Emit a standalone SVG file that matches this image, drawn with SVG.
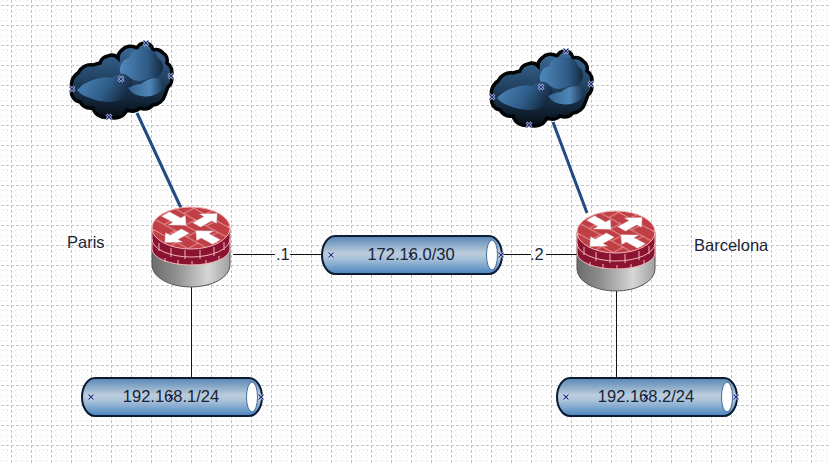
<svg xmlns="http://www.w3.org/2000/svg" xmlns:xlink="http://www.w3.org/1999/xlink" width="829" height="464" viewBox="0 0 829 464">
<style>
text{font-family:"Liberation Sans",Arial,sans-serif;font-size:16.5px;fill:#1b2536}
.lbl{fill:#16233a}
.wire{stroke:#111;stroke-width:1;fill:none}
.uplink{stroke:#234a85;stroke-width:3;fill:none}
.x{stroke:#1c2f8c;stroke-width:1.100;fill:none}
.xw{stroke:#fff;stroke-width:2.500;fill:none;opacity:.8}
.brick{stroke:#f2b6b6;stroke-width:1;fill:none}
</style>
<defs>
<pattern id="grid" x="11" y="5" width="20" height="20" patternUnits="userSpaceOnUse">
<path d="M5.500 0V20M10.500 0V20M15.500 0V20M0 5.500H20M0 10.500H20M0 15.500H20" stroke="#e6e6e6" stroke-width="1" stroke-dasharray="1 3" fill="none"/>
<path d="M.5 0V20M0 .5H20" stroke="#c2c2c2" stroke-width="1" stroke-dasharray="3 2" fill="none"/>
</pattern>
<linearGradient id="pipeG" x1="0" y1="0" x2="0" y2="1">
<stop offset="0" stop-color="#5585b5"/><stop offset=".45" stop-color="#bccddc"/><stop offset=".6" stop-color="#a9c2da"/><stop offset="1" stop-color="#4a84bd"/>
</linearGradient>
<linearGradient id="grayG" x1="0" y1="0" x2="1" y2="0">
<stop offset="0" stop-color="#6c6c6c"/><stop offset=".3" stop-color="#8e8e8e"/><stop offset=".72" stop-color="#d6d6d6"/><stop offset="1" stop-color="#a0a0a0"/>
</linearGradient>
<linearGradient id="cloudG" x1="0" y1="0" x2="0" y2="1">
<stop offset="0" stop-color="#3d6d9c"/><stop offset=".5" stop-color="#20405f"/><stop offset="1" stop-color="#070d16"/>
</linearGradient>
<linearGradient id="puffA" x1="0" y1="0" x2="1" y2="0">
<stop offset="0" stop-color="#4f88bc"/><stop offset=".65" stop-color="#2f5a85"/><stop offset="1" stop-color="#15283e"/>
</linearGradient>
<linearGradient id="puffB" x1="0" y1="0" x2="1" y2="0.3">
<stop offset="0" stop-color="#4f8abf"/><stop offset=".65" stop-color="#2d5a85"/><stop offset="1" stop-color="#172c45"/>
</linearGradient>
<linearGradient id="puffC" x1="0" y1="0" x2="1" y2="0">
<stop offset="0" stop-color="#35648f"/><stop offset=".6" stop-color="#4f86b8"/><stop offset="1" stop-color="#1b3450"/>
</linearGradient>
<filter id="soft" x="-10%" y="-10%" width="120%" height="120%"><feGaussianBlur stdDeviation=".5"/></filter>
<pattern id="bricks" width="32" height="28" patternUnits="userSpaceOnUse" patternTransform="translate(191 228) scale(1 .55) rotate(45)">
<path d="M0 .5H32M0 14.500H32M8.500 0V14M24.500 14V28" stroke="#eda3a3" stroke-width="1.200" fill="none"/>
</pattern>
<g id="xm">
<path class="xw" d="M-2.500-2.500L2.500 2.500M-2.500 2.500L2.500-2.500"/>
<path class="x" d="M-2.500-2.500L2.500 2.500M-2.500 2.500L2.500-2.500"/>
</g>
<g id="pipe">
<rect x="1" y="1" width="180" height="38" rx="13" ry="19" fill="url(#pipeG)" stroke="#0b1b33" stroke-width="2"/>
<ellipse cx="171" cy="20" rx="5.500" ry="15" fill="#fff" stroke="#3f6f9f" stroke-width="1"/>
<use xlink:href="#xm" x="10" y="20"/>
<use xlink:href="#xm" x="90" y="20"/>
<use xlink:href="#xm" x="180" y="20"/>
</g>
<g id="cloud">
<path d="M72 89A14 14 0 0 1 78 73A14 14 0 0 1 93 65L100 63A10 10 0 0 1 108 56A9 9 0 0 1 118 58A10 10 0 0 1 122 50A12 12 0 0 1 137 48A9 9 0 0 1 146 43A9 9 0 0 1 153 50A10 10 0 0 1 163 53A9 9 0 0 1 167 63A10 10 0 0 1 171 76A9 9 0 0 1 168 87L165 95A14 14 0 0 1 153 105A12 12 0 0 1 140 108A12 12 0 0 1 127 110A14 14 0 0 1 109 117A13 13 0 0 1 93 108A13 13 0 0 1 80 102A10 10 0 0 1 72 89Z" fill="url(#cloudG)" stroke="#020406" stroke-width="3.500"/>
<g filter="url(#soft)">
<path d="M120 72A12 12 0 0 1 129 58A12 12 0 0 1 146 50A10 10 0 0 1 158 58A11 11 0 0 1 162 72A10 10 0 0 1 150 78Q138 84 130 78Q122 80 120 72Z" fill="url(#puffA)"/>
<path d="M77 90Q85 82 93 80Q105 76 112 78Q122 70 128 76Q136 82 129 92Q124 100 112 102Q98 102 90 98Q82 96 77 90Z" fill="url(#puffB)"/>
<path d="M128 88Q136 84 141 84Q150 76 162 79Q167 86 160 92Q150 98 142 96Q134 96 128 88Z" fill="url(#puffC)"/>
</g>
<use xlink:href="#xm" x="72" y="89"/>
<use xlink:href="#xm" x="146" y="43"/>
<use xlink:href="#xm" x="171" y="76"/>
<use xlink:href="#xm" x="109" y="117"/>
<use xlink:href="#xm" x="121" y="79"/>
</g>
<g id="router">
<path d="M152 228V265A39 22 0 0 0 230 265V228Z" fill="url(#grayG)" stroke="#555" stroke-width="1"/>
<path d="M152 228V249A39 16 0 0 0 230 249V228Z" fill="#8a1232" stroke="#f2b6b6" stroke-width="1"/>
<path class="brick" d="M152 239A39 18 0 0 0 230 239"/>
<path class="brick" d="M159 243V251M171 248V257M185 250V259M200 250V259M214 247V256M224 242V250M165 258V262M178 260V265M192 261V265M206 260V264M219 256V260"/>
<ellipse cx="191" cy="228" rx="39" ry="21" fill="#c03e45"/>
<ellipse cx="191" cy="228" rx="39" ry="21" fill="url(#bricks)" stroke="#f2b6b6" stroke-width="1"/>
<g transform="translate(191 228) scale(1 .55)" fill="#fff" stroke="#d8c8c8" stroke-width=".5">
<polygon transform="rotate(45)" points="-36,-5.500 -20,-5.500 -20,-12 -7,0 -20,12 -20,5.500 -36,5.500"/>
<polygon transform="rotate(225)" points="-36,-5.500 -20,-5.500 -20,-12 -7,0 -20,12 -20,5.500 -36,5.500"/>
<polygon transform="rotate(-45)" points="-8,-5.500 -24,-5.500 -24,-12 -37,0 -24,12 -24,5.500 -8,5.500"/>
<polygon transform="rotate(135)" points="-8,-5.500 -24,-5.500 -24,-12 -37,0 -24,12 -24,5.500 -8,5.500"/>
</g>
</g>
</defs>
<rect id="background" width="829" height="464" fill="#fff"/>
<rect id="canvas-grid" width="829" height="464" fill="url(#grid)"/>
<g id="connectors">
<path class="uplink" d="M137 113L181 208"/>
<path class="uplink" d="M553 122L587 213"/>
<path class="wire" d="M233 254.500H275M290 254.500H331"/>
<path class="wire" d="M501 254.500H531M546 254.500H577"/>
<path class="wire" d="M191.500 287V377"/>
<path class="wire" d="M616.500 291V377"/>
</g>
<g id="cloud-paris"><use xlink:href="#cloud"/></g>
<g id="cloud-barcelona"><use xlink:href="#cloud" x="420" y="8"/></g>
<g id="router-paris"><use xlink:href="#router"/></g>
<g id="router-barcelona"><use xlink:href="#router" x="425" y="4"/></g>
<g id="net-transit"><use xlink:href="#pipe" x="321" y="235"/><text class="lbl" x="411" y="260" text-anchor="middle">172.16.0/30</text></g>
<g id="net-paris"><use xlink:href="#pipe" x="81" y="377"/><text class="lbl" x="171" y="402" text-anchor="middle">192.168.1/24</text></g>
<g id="net-barcelona"><use xlink:href="#pipe" x="556" y="377"/><text class="lbl" x="646" y="402" text-anchor="middle">192.168.2/24</text></g>
<g id="label-paris"><text x="67" y="248">Paris</text></g>
<g id="label-barcelona"><text x="694" y="251">Barcelona</text></g>
<g id="addr-1"><text x="276" y="260">.1</text></g>
<g id="addr-2"><text x="530" y="260">.2</text></g>
</svg>
